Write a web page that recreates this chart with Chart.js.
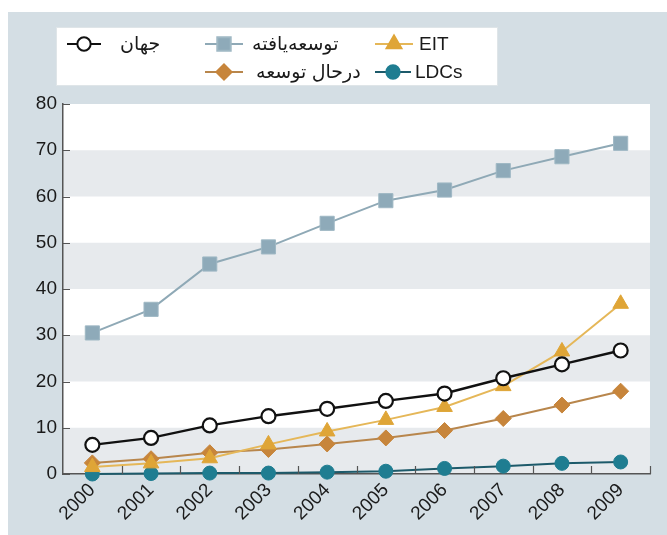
<!DOCTYPE html>
<html>
<head>
<meta charset="utf-8">
<script src="https://cdn.jsdelivr.net/npm/chart.js@4.4.1/dist/chart.umd.min.js"></script>
<style>
  html, body { margin: 0; padding: 0; background: #ffffff; }
  #wrap { position: relative; width: 667px; height: 535px; }
  canvas { display: block; }
</style>
</head>
<body>
<div id="wrap"><canvas id="c" width="667" height="535"></canvas></div>
<script>
// Categories
const years = ['2000', '2001', '2002', '2003', '2004', '2005', '2006', '2007', '2008', '2009'];

// Series values
const world      = [6.3, 7.8, 10.5, 12.5, 14.1, 15.8, 17.4, 20.7, 23.7, 26.7];
const developed  = [30.5, 35.6, 45.4, 49.1, 54.2, 59.1, 61.4, 65.6, 68.6, 71.5];
const developing = [2.4, 3.3, 4.6, 5.3, 6.5, 7.8, 9.4, 12.0, 14.9, 17.9];
const eit        = [1.5, 2.3, 3.4, 6.4, 9.2, 11.7, 14.5, 19.0, 26.5, 36.8];
const ldcs       = [0.0, 0.1, 0.2, 0.2, 0.4, 0.6, 1.2, 1.7, 2.3, 2.6];

// Series names
const names = {
  world: 'جهان',
  developed: 'توسعه‌یافته',
  developing: 'درحال توسعه',
  eit: 'EIT',
  ldcs: 'LDCs'
};

// Y axis ticks
const yTicks = [0, 10, 20, 30, 40, 50, 60, 70, 80];

const NUM_FONT = '"Liberation Sans", Arial, "DejaVu Sans", sans-serif';

const styles = {
  world:      { line: '#111111', fill: '#ffffff', border: '#111111', pointStyle: 'circle',   radius: 7, bw: 2.2, lw: 2.4 },
  developed:  { line: '#8fa9b6', fill: '#8eaab9', border: '#9fb8c4', pointStyle: 'rect',     radius: 10, bw: 1, lw: 2 },
  developing: { line: '#b8864c', fill: '#c7853b', border: '#c7853b', pointStyle: 'rectRot',  radius: 8, bw: 1, lw: 2 },
  eit:        { line: '#e5b758', fill: '#dfa537', border: '#dfa537', pointStyle: 'triangle', radius: 9, bw: 1, lw: 2 },
  ldcs:       { line: '#1d5a6a', fill: '#1f7d91', border: '#1f7d91', pointStyle: 'circle',   radius: 7, bw: 1, lw: 2 }
};

function makeSet(key, data, order) {
  const s = styles[key];
  return {
    label: names[key],
    data: data,
    borderColor: s.line,
    borderWidth: s.lw,
    backgroundColor: s.fill,
    pointBackgroundColor: s.fill,
    pointBorderColor: s.border,
    pointBorderWidth: s.bw,
    pointStyle: s.pointStyle,
    pointRadius: s.radius,
    pointHoverRadius: s.radius,
    tension: 0,
    clip: false,
    order: order
  };
}

// Outer frame and alternating horizontal bands
const bandsPlugin = {
  id: 'bands',
  beforeDraw(chart) {
    const { ctx, chartArea: a, scales: { y } } = chart;
    ctx.save();
    ctx.fillStyle = '#d4dee4';
    ctx.fillRect(8, 12, chart.width - 8, chart.height - 12);
    ctx.fillStyle = '#ffffff';
    ctx.fillRect(a.left, a.top, a.right - a.left, a.bottom - a.top);
    ctx.fillStyle = '#e7eaed';
    for (let v = 0; v < 80; v += 20) {
      const y0 = y.getPixelForValue(v);
      const y1 = y.getPixelForValue(v + 10);
      ctx.fillRect(a.left, y1, a.right - a.left, y0 - y1);
    }
    ctx.restore();
  }
};

// Inward tick marks on both axes
const ticksPlugin = {
  id: 'innerTicks',
  afterDatasetsDraw(chart) {
    const { ctx, chartArea: a, scales: { x, y } } = chart;
    ctx.save();
    ctx.strokeStyle = '#555555';
    ctx.lineWidth = 1.2;
    ctx.beginPath();
    yTicks.forEach(v => {
      const py = Math.round(y.getPixelForValue(v)) + 0.5;
      ctx.moveTo(a.left, py);
      ctx.lineTo(a.left + 7, py);
    });
    const step = x.getPixelForValue(1) - x.getPixelForValue(0);
    for (let i = 1; i <= years.length; i++) {
      const px = Math.round(x.getPixelForValue(0) - step / 2 + i * step) + 0.5;
      ctx.moveTo(px, a.bottom);
      ctx.lineTo(px, a.bottom - 8);
    }
    ctx.stroke();
    ctx.restore();
  }
};

// Two-row legend box
const legendPlugin = {
  id: 'boxLegend',
  afterDraw(chart) {
    const { ctx } = chart;
    const H = Chart.helpers;
    ctx.save();
    ctx.fillStyle = '#ffffff';
    ctx.fillRect(56, 27, 442, 59);
    ctx.strokeStyle = '#dfe5e8';
    ctx.lineWidth = 1;
    ctx.strokeRect(56.5, 27.5, 441, 58);

    const items = [
      { key: 'world',      lx: 67,  rx: 101, tx: 120, ty: 44 },
      { key: 'developed',  lx: 205, rx: 243, tx: 252, ty: 44 },
      { key: 'eit',        lx: 375, rx: 413, tx: 419, ty: 44 },
      { key: 'developing', lx: 205, rx: 243, tx: 256, ty: 72 },
      { key: 'ldcs',       lx: 375, rx: 411, tx: 415, ty: 72 }
    ];
    items.forEach(it => {
      const s = styles[it.key];
      const cy = it.ty;
      ctx.strokeStyle = s.line;
      ctx.lineWidth = 2;
      ctx.beginPath();
      ctx.moveTo(it.lx, cy);
      ctx.lineTo(it.rx, cy);
      ctx.stroke();
      ctx.fillStyle = s.fill;
      ctx.strokeStyle = s.border;
      H.drawPoint(ctx, { pointStyle: s.pointStyle, radius: s.radius * 0.95, rotation: 0, borderWidth: s.bw },
        (it.lx + it.rx) / 2, cy);
      ctx.fillStyle = '#1a1a1a';
      ctx.textBaseline = 'middle';
      ctx.textAlign = 'left';
      ctx.font = '19px ' + NUM_FONT;
      ctx.fillText(names[it.key], it.tx, cy + 1);
    });
    ctx.restore();
  }
};

new Chart(document.getElementById('c'), {
  type: 'line',
  data: {
    labels: years,
    datasets: [
      makeSet('world', world, 0),
      makeSet('eit', eit, 1),
      makeSet('developing', developing, 2),
      makeSet('developed', developed, 3),
      makeSet('ldcs', ldcs, 4)
    ]
  },
  options: {
    responsive: false,
    animation: false,
    devicePixelRatio: 1,
    layout: { padding: { top: 104, right: 17, bottom: 0, left: 0 } },
    plugins: {
      legend: { display: false },
      tooltip: { enabled: false },
      title: { display: false }
    },
    scales: {
      x: {
        type: 'category',
        offset: true,
        grid: { display: false, drawTicks: false },
        border: { display: true, color: '#555555', width: 1.5 },
        ticks: {
          color: '#1a1a1a',
          font: { family: NUM_FONT, size: 19 },
          minRotation: 45,
          maxRotation: 45,
          padding: 5,
          autoSkip: false
        },
        afterFit(scale) { scale.height = 61; }
      },
      y: {
        min: 0,
        max: 80,
        grid: { display: false, drawTicks: false },
        border: { display: true, color: '#555555', width: 1.5 },
        ticks: {
          stepSize: 10,
          color: '#1a1a1a',
          font: { family: NUM_FONT, size: 19 },
          padding: 6
        },
        afterFit(scale) { scale.width = 63; }
      }
    }
  },
  plugins: [bandsPlugin, ticksPlugin, legendPlugin]
});
</script>
</body>
</html>
